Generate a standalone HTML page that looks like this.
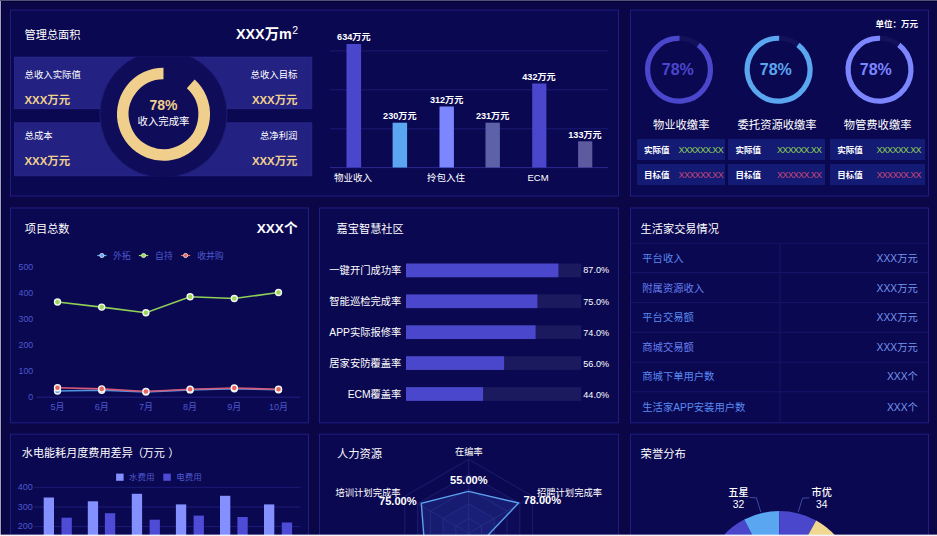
<!DOCTYPE html>
<html lang="zh-CN">
<head>
<meta charset="utf-8">
<title>数据看板</title>
<style>
*{margin:0;padding:0;box-sizing:border-box;}
html,body{width:937px;height:536px;overflow:hidden;background:#0b0646;}
body{position:relative;font-family:"Liberation Sans","Noto Sans CJK SC",sans-serif;color:#fff;font-size:11px;line-height:1;}
.edge-t{position:absolute;left:0;top:0;width:937px;height:2px;background:linear-gradient(#52507d 0,#52507d 50%,#04022f 50%,#04022f 100%);}
.edge-l{position:absolute;left:0;top:1px;width:2px;height:535px;background:linear-gradient(90deg,#a0a0cd 0,#a0a0cd 50%,#04022f 50%,#04022f 100%);}
.edge-b2{position:absolute;left:0;top:534px;width:937px;height:1px;background:rgba(240,240,255,0.38);}
.edge-b{position:absolute;left:0;top:535px;width:937px;height:1px;background:#f4f4fa;}
.panel{position:absolute;background:#0b084e;border:1px solid #1d1a78;}
.t{position:absolute;white-space:nowrap;}
.ttl{font-size:11.2px;color:#fff;}
.big{font-weight:bold;font-size:14px;color:#fff;}
.gold{color:#f0d08e;font-weight:bold;font-size:11.4px;}
.sm{font-size:9.4px;}
.r{text-align:right;}
.box{position:absolute;background:#232282;border:1px solid #2b2a8e;}
.bl{font-size:9.1px;font-weight:bold;transform:translateX(-50%);}
.xl{font-size:9.5px;transform:translateX(-50%);}
.vb{position:absolute;height:21px;background:#131b75;white-space:nowrap;}
.vl{position:absolute;left:7.2px;top:7.2px;font-size:8.5px;font-weight:bold;color:#fff;}
.vv{position:absolute;top:6.5px;font-size:9px;letter-spacing:-0.68px;margin-right:0.7px;}
.c{transform:translateX(-50%);}
.pb{font-size:11.1px;font-weight:bold;}
#bg{position:absolute;left:0;top:0;width:937px;height:536px;}
#ov{position:absolute;left:0;top:0;width:937px;height:536px;}
#ov text{font-family:"Liberation Sans","Noto Sans CJK SC",sans-serif;}
</style>
</head>
<body>
<!-- panels -->
<svg id="bg" viewBox="0 0 937 536">
<rect x="10.5" y="10.1" width="608.0" height="185.9" fill="#0b0852" stroke="#201d80" stroke-width="1"/>
<rect x="630.5" y="10.1" width="298.0" height="185.9" fill="#0b0852" stroke="#201d80" stroke-width="1"/>
<rect x="10.5" y="208.0" width="298.0" height="214.8" fill="#0b0852" stroke="#201d80" stroke-width="1"/>
<rect x="319.5" y="208.0" width="299.0" height="214.8" fill="#0b0852" stroke="#201d80" stroke-width="1"/>
<rect x="630.5" y="208.0" width="298.0" height="214.8" fill="#0b0852" stroke="#201d80" stroke-width="1"/>
<rect x="10.5" y="434.2" width="298.0" height="125.8" fill="#0b0852" stroke="#201d80" stroke-width="1"/>
<rect x="319.5" y="434.2" width="299.0" height="125.8" fill="#0b0852" stroke="#201d80" stroke-width="1"/>
<rect x="630.5" y="434.2" width="298.0" height="125.8" fill="#0b0852" stroke="#201d80" stroke-width="1"/>
<rect x="14.5" y="57.1" width="297.3" height="51.6" fill="#232282" stroke="#2a298c" stroke-width="0.8"/>
<rect x="14.5" y="122.8" width="297.3" height="53.0" fill="#232282" stroke="#2a298c" stroke-width="0.8"/>
</svg>

<!-- P1: overview boxes are drawn in #bg svg -->

<svg id="ov" viewBox="0 0 937 536">

<!-- P1 donut -->
<clipPath id="band"><rect x="90" y="56.7" width="150" height="119.5"/></clipPath>
<circle cx="163.5" cy="114.2" r="63.6" fill="#0f0c5a" stroke="#1f1d78" stroke-width="1" clip-path="url(#band)"/>
<path d="M190.73 83.95 A40.7 40.7 0 1 1 163.49 73.50" fill="none" stroke="#f0cf8c" stroke-width="11.7"/>
<!-- P1 bar chart -->
<g stroke="#1c1a72" stroke-width="1">
<line x1="330" y1="50.9" x2="608" y2="50.9"/>
<line x1="330" y1="89.8" x2="608" y2="89.8"/>
<line x1="330" y1="128.8" x2="608" y2="128.8"/>
<line x1="330" y1="167.6" x2="608" y2="167.6" stroke="#2a2890"/>
</g>
<rect x="346.5" y="44" width="14.6" height="123.5" fill="#4a47cc"/>
<rect x="392.6" y="122.7" width="14.5" height="44.8" fill="#5ba6f0"/>
<rect x="439.5" y="106.5" width="14.4" height="61" fill="#7b86ff"/>
<rect x="485.5" y="122.7" width="14.4" height="44.8" fill="#5d62a8"/>
<rect x="532.2" y="83.5" width="14.2" height="84" fill="#4a47cc"/>
<rect x="578.1" y="141.3" width="14.2" height="26.2" fill="#5d5aa0"/>
<!-- P2 rings -->
<circle cx="679.0" cy="69.7" r="31.45" fill="none" stroke="#13115a" stroke-width="5.2"/>
<circle cx="679.0" cy="69.7" r="31.45" fill="none" stroke="#4a47cc" stroke-width="5.2" stroke-dasharray="177.02 400" transform="rotate(-52 679.0 69.7)"/>
<circle cx="778.6" cy="69.7" r="31.45" fill="none" stroke="#13115a" stroke-width="5.2"/>
<circle cx="778.6" cy="69.7" r="31.45" fill="none" stroke="#5ba6f0" stroke-width="5.2" stroke-dasharray="177.02 400" transform="rotate(-52 778.6 69.7)"/>
<circle cx="879.5" cy="69.7" r="31.45" fill="none" stroke="#13115a" stroke-width="5.2"/>
<circle cx="879.5" cy="69.7" r="31.45" fill="none" stroke="#7b86ff" stroke-width="5.2" stroke-dasharray="177.02 400" transform="rotate(-52 879.5 69.7)"/>
<!-- P3 line chart -->
<line x1="36.5" y1="397.2" x2="300" y2="397.2" stroke="#25258c" stroke-width="0.9"/>
<polyline points="57.5,391.0 101.7,390.2 145.9,391.9 190.1,389.9 234.3,388.7 278.5,389.8" fill="none" stroke="#4f96e0" stroke-width="1.6"/>
<circle cx="57.5" cy="391.0" r="3.0" fill="#5ba6f0" stroke="#f4f4f4" stroke-width="1.4"/>
<circle cx="101.7" cy="390.2" r="3.0" fill="#5ba6f0" stroke="#f4f4f4" stroke-width="1.4"/>
<circle cx="145.9" cy="391.9" r="3.0" fill="#5ba6f0" stroke="#f4f4f4" stroke-width="1.4"/>
<circle cx="190.1" cy="389.9" r="3.0" fill="#5ba6f0" stroke="#f4f4f4" stroke-width="1.4"/>
<circle cx="234.3" cy="388.7" r="3.0" fill="#5ba6f0" stroke="#f4f4f4" stroke-width="1.4"/>
<circle cx="278.5" cy="389.8" r="3.0" fill="#5ba6f0" stroke="#f4f4f4" stroke-width="1.4"/>
<polyline points="57.5,302.0 101.7,307.1 145.9,312.7 190.1,296.8 234.3,298.5 278.5,292.5" fill="none" stroke="#8fcf58" stroke-width="1.6"/>
<circle cx="57.5" cy="302.0" r="3.0" fill="#9bd85a" stroke="#f4f4f4" stroke-width="1.4"/>
<circle cx="101.7" cy="307.1" r="3.0" fill="#9bd85a" stroke="#f4f4f4" stroke-width="1.4"/>
<circle cx="145.9" cy="312.7" r="3.0" fill="#9bd85a" stroke="#f4f4f4" stroke-width="1.4"/>
<circle cx="190.1" cy="296.8" r="3.0" fill="#9bd85a" stroke="#f4f4f4" stroke-width="1.4"/>
<circle cx="234.3" cy="298.5" r="3.0" fill="#9bd85a" stroke="#f4f4f4" stroke-width="1.4"/>
<circle cx="278.5" cy="292.5" r="3.0" fill="#9bd85a" stroke="#f4f4f4" stroke-width="1.4"/>
<polyline points="57.5,387.8 101.7,388.9 145.9,391.5 190.1,389.3 234.3,388.0 278.5,389.3" fill="none" stroke="#d85a76" stroke-width="1.6"/>
<circle cx="57.5" cy="387.8" r="3.0" fill="#e5655f" stroke="#f4f4f4" stroke-width="1.4"/>
<circle cx="101.7" cy="388.9" r="3.0" fill="#e5655f" stroke="#f4f4f4" stroke-width="1.4"/>
<circle cx="145.9" cy="391.5" r="3.0" fill="#e5655f" stroke="#f4f4f4" stroke-width="1.4"/>
<circle cx="190.1" cy="389.3" r="3.0" fill="#e5655f" stroke="#f4f4f4" stroke-width="1.4"/>
<circle cx="234.3" cy="388.0" r="3.0" fill="#e5655f" stroke="#f4f4f4" stroke-width="1.4"/>
<circle cx="278.5" cy="389.3" r="3.0" fill="#e5655f" stroke="#f4f4f4" stroke-width="1.4"/>
<line x1="97.2" y1="255.5" x2="106.60000000000001" y2="255.5" stroke="#5ba6f0" stroke-width="1.2"/><circle cx="101.9" cy="255.5" r="2.1" fill="#5ba6f0" stroke="#f2f2f2" stroke-width="0.8"/>
<line x1="138.9" y1="255.5" x2="148.29999999999998" y2="255.5" stroke="#9bd85a" stroke-width="1.2"/><circle cx="143.6" cy="255.5" r="2.1" fill="#9bd85a" stroke="#f2f2f2" stroke-width="0.8"/>
<line x1="180.9" y1="255.5" x2="190.29999999999998" y2="255.5" stroke="#e5655f" stroke-width="1.2"/><circle cx="185.6" cy="255.5" r="2.1" fill="#e5655f" stroke="#f2f2f2" stroke-width="0.8"/>
<!-- P4 progress -->
<rect x="406" y="263.55" width="175.2" height="13.7" fill="#1c1a5e"/><rect x="406" y="263.55" width="152.4" height="13.7" fill="#4a47cc"/>
<rect x="406" y="294.45" width="175.2" height="13.7" fill="#1c1a5e"/><rect x="406" y="294.45" width="131.4" height="13.7" fill="#4a47cc"/>
<rect x="406" y="325.35" width="175.2" height="13.7" fill="#1c1a5e"/><rect x="406" y="325.35" width="129.6" height="13.7" fill="#4a47cc"/>
<rect x="406" y="356.25" width="175.2" height="13.7" fill="#1c1a5e"/><rect x="406" y="356.25" width="98.1" height="13.7" fill="#4a47cc"/>
<rect x="406" y="387.15" width="175.2" height="13.7" fill="#1c1a5e"/><rect x="406" y="387.15" width="77.1" height="13.7" fill="#4a47cc"/>
<!-- P5 table -->
<g stroke="#161568" stroke-width="1">
<line x1="631" y1="243.4" x2="928" y2="243.4"/>
<line x1="631" y1="272.6" x2="928" y2="272.6"/>
<line x1="631" y1="302.6" x2="928" y2="302.6"/>
<line x1="631" y1="332.2" x2="928" y2="332.2"/>
<line x1="631" y1="362.2" x2="928" y2="362.2"/>
<line x1="631" y1="391.8" x2="928" y2="391.8"/>
<line x1="780" y1="243.4" x2="780" y2="423"/>
</g>
<!-- P6 bars -->
<g stroke="#1c1c78" stroke-width="1">
<line x1="34" y1="487.3" x2="300.5" y2="487.3"/>
<line x1="34" y1="507.0" x2="300.5" y2="507.0"/>
<line x1="34" y1="526.6" x2="300.5" y2="526.6"/>
</g>
<rect x="43.7" y="497.5" width="10.3" height="42.5" fill="#8490ff"/>
<rect x="87.8" y="501.3" width="10.3" height="38.7" fill="#8490ff"/>
<rect x="131.8" y="493.8" width="10.3" height="46.2" fill="#8490ff"/>
<rect x="175.9" y="504.4" width="10.3" height="35.6" fill="#8490ff"/>
<rect x="220.0" y="495.8" width="10.3" height="44.2" fill="#8490ff"/>
<rect x="264.0" y="504.4" width="10.3" height="35.6" fill="#8490ff"/>
<rect x="61.5" y="517.7" width="10.3" height="22.3" fill="#4e4cd6"/>
<rect x="104.9" y="513.2" width="10.3" height="26.8" fill="#4e4cd6"/>
<rect x="149.6" y="519.7" width="10.3" height="20.3" fill="#4e4cd6"/>
<rect x="193.6" y="515.6" width="10.3" height="24.4" fill="#4e4cd6"/>
<rect x="237.4" y="517.0" width="10.3" height="23.0" fill="#4e4cd6"/>
<rect x="281.8" y="522.5" width="10.3" height="17.5" fill="#4e4cd6"/>
<rect x="116.1" y="473.6" width="7.5" height="7.2" fill="#8490ff"/><rect x="163.3" y="473.6" width="7.5" height="7.2" fill="#4e4cd6"/>
<!-- P7 radar -->
<g fill="none" stroke="#212374" stroke-width="0.8">
<polygon points="468.7,459.4 532.6,496.3 532.6,570.1 468.7,607.0 404.8,570.1 404.8,496.3" fill="none"/>
<polygon points="468.7,474.2 519.8,503.7 519.8,562.7 468.7,592.2 417.6,562.7 417.6,503.7" fill="rgba(30,34,120,0.18)"/>
<polygon points="468.7,488.9 507.0,511.1 507.0,555.3 468.7,577.5 430.4,555.3 430.4,511.1" fill="none"/>
<polygon points="468.7,503.7 494.3,518.4 494.3,548.0 468.7,562.7 443.1,548.0 443.1,518.4" fill="rgba(30,34,120,0.18)"/>
<polygon points="468.7,518.4 481.5,525.8 481.5,540.6 468.7,548.0 455.9,540.6 455.9,525.8" fill="none"/>
<line x1="468.7" y1="533.2" x2="468.7" y2="459.4"/>
<line x1="468.7" y1="533.2" x2="532.6" y2="496.3"/>
<line x1="468.7" y1="533.2" x2="532.6" y2="570.1"/>
<line x1="468.7" y1="533.2" x2="468.7" y2="607.0"/>
<line x1="468.7" y1="533.2" x2="404.8" y2="570.1"/>
<line x1="468.7" y1="533.2" x2="404.8" y2="496.3"/>
</g>
<polygon points="468.4,491.4 518.6,503.0 482.4,541.1 468.7,560.0 425.6,558.1 421.3,503.4" fill="rgba(62,100,220,0.19)" stroke="#5ba0ee" stroke-width="1.4" stroke-linejoin="miter"/>
<!-- P8 pie -->
<path d="M779.3 587 L704.45 573.80 A76 76 0 0 1 744.21 519.59 Z" fill="#4a47cc"/>
<path d="M779.3 587 L744.21 519.59 A76 76 0 0 1 779.30 511.00 Z" fill="#5ba6f0"/>
<path d="M779.3 587 L779.30 511.00 A76 76 0 0 1 816.15 520.53 Z" fill="#4a47cc"/>
<path d="M779.3 587 L816.15 520.53 A76 76 0 0 1 854.15 573.80 Z" fill="#f0d890"/>
<polyline points="749.5,497.5 756.4,497.8 760.8,512" fill="none" stroke="#3d4aa0" stroke-width="1"/>
<polyline points="809.3,497.8 802.5,498.2 798.2,512" fill="none" stroke="#3d4aa0" stroke-width="1"/>
<!-- SVG-CONTENT -->
</svg>


<!-- P1 text -->
<div class="t ttl" style="left:24.5px;top:29.5px;">管理总面积</div>
<div class="t big r" style="right:639px;top:27.2px;font-size:14.3px;">XXX万m<span style="font-size:10.5px;font-weight:normal;position:relative;top:-5.5px;margin-left:0.5px;">2</span></div>
<div class="t sm" style="left:24.5px;top:70.4px;">总收入实际值</div>
<div class="t gold" style="left:24.5px;top:95.2px;">XXX万元</div>
<div class="t sm r" style="right:639.5px;top:70.4px;">总收入目标</div>
<div class="t gold r" style="right:639.5px;top:95.2px;">XXX万元</div>
<div class="t sm" style="left:24.5px;top:131px;">总成本</div>
<div class="t gold" style="left:24.5px;top:156.2px;">XXX万元</div>
<div class="t sm r" style="right:639.5px;top:131px;">总净利润</div>
<div class="t gold r" style="right:639.5px;top:156.2px;">XXX万元</div>
<div class="t" style="left:133.5px;width:60px;text-align:center;top:98px;font-size:14px;font-weight:bold;color:#f0cf8c;">78%</div>
<div class="t" style="left:123.5px;width:80px;text-align:center;top:116.5px;font-size:10.4px;">收入完成率</div>
<!-- P1 bar labels -->
<div class="t bl" style="left:353.8px;top:33.4px;">634万元</div>
<div class="t bl" style="left:399.8px;top:112px;">230万元</div>
<div class="t bl" style="left:446.6px;top:96px;">312万元</div>
<div class="t bl" style="left:492.6px;top:112px;">231万元</div>
<div class="t bl" style="left:539px;top:73px;">432万元</div>
<div class="t bl" style="left:585px;top:131px;">133万元</div>
<div class="t xl" style="left:353px;top:173px;">物业收入</div>
<div class="t xl" style="left:446px;top:173px;">拎包入住</div>
<div class="t xl" style="left:538px;top:173px;">ECM</div>
<!-- P2 text -->
<div class="t r" style="right:19px;top:19.9px;font-size:8.5px;font-weight:bold;">单位：万元</div>
<div class="t" style="left:677.8px;top:62px;transform:translateX(-50%);font-size:16px;font-weight:bold;color:#4a47cc;">78%</div>
<div class="t" style="left:681.2px;top:120px;transform:translateX(-50%);font-size:11.3px;">物业收缴率</div>
<div class="vb" style="left:636.7px;top:139px;width:88px;"><span class="vl">实际值</span><span class="vv" style="color:#8fd14f;right:1px;">XXXXXX.XX</span></div>
<div class="vb" style="left:636.7px;top:164.1px;width:88px;"><span class="vl">目标值</span><span class="vv" style="color:#c8467a;right:1px;">XXXXXX.XX</span></div>
<div class="t" style="left:775.8px;top:62px;transform:translateX(-50%);font-size:16px;font-weight:bold;color:#5ba6f0;">78%</div>
<div class="t" style="left:777.1px;top:120px;transform:translateX(-50%);font-size:11.3px;">委托资源收缴率</div>
<div class="vb" style="left:728.2px;top:139px;width:96.5px;"><span class="vl">实际值</span><span class="vv" style="color:#8fd14f;right:2.6px;">XXXXXX.XX</span></div>
<div class="vb" style="left:728.2px;top:164.1px;width:96.5px;"><span class="vl">目标值</span><span class="vv" style="color:#c8467a;right:2.6px;">XXXXXX.XX</span></div>
<div class="t" style="left:875.8px;top:62px;transform:translateX(-50%);font-size:16px;font-weight:bold;color:#7b86ff;">78%</div>
<div class="t" style="left:877.6px;top:120px;transform:translateX(-50%);font-size:11.3px;">物管费收缴率</div>
<div class="vb" style="left:830px;top:139px;width:95.2px;"><span class="vl">实际值</span><span class="vv" style="color:#8fd14f;right:3.7px;">XXXXXX.XX</span></div>
<div class="vb" style="left:830px;top:164.1px;width:95.2px;"><span class="vl">目标值</span><span class="vv" style="color:#c8467a;right:3.7px;">XXXXXX.XX</span></div>
<!-- P3 text -->
<div class="t ttl" style="left:24.8px;top:224.1px;">项目总数</div>
<div class="t r" style="right:639.5px;top:221.6px;font-size:13.6px;font-weight:bold;">XXX个</div>
<div class="t" style="left:113.1px;top:252.1px;font-size:8.8px;color:#4c58cc;">外拓</div>
<div class="t" style="left:155.1px;top:252.1px;font-size:8.8px;color:#4c58cc;">自持</div>
<div class="t" style="left:197.2px;top:252.1px;font-size:8.8px;color:#4c58cc;">收并购</div>
<div class="t r" style="right:903.8px;top:262.5px;font-size:8.8px;color:#4c58cc;">500</div>
<div class="t r" style="right:903.8px;top:288.6px;font-size:8.8px;color:#4c58cc;">400</div>
<div class="t r" style="right:903.8px;top:314.7px;font-size:8.8px;color:#4c58cc;">300</div>
<div class="t r" style="right:903.8px;top:340.7px;font-size:8.8px;color:#4c58cc;">200</div>
<div class="t r" style="right:903.8px;top:366.8px;font-size:8.8px;color:#4c58cc;">100</div>
<div class="t r" style="right:903.8px;top:392.9px;font-size:8.8px;color:#4c58cc;">0</div>
<div class="t" style="left:57.5px;top:402.8px;transform:translateX(-50%);font-size:9px;color:#4c58cc;">5月</div>
<div class="t" style="left:101.7px;top:402.8px;transform:translateX(-50%);font-size:9px;color:#4c58cc;">6月</div>
<div class="t" style="left:145.9px;top:402.8px;transform:translateX(-50%);font-size:9px;color:#4c58cc;">7月</div>
<div class="t" style="left:190.1px;top:402.8px;transform:translateX(-50%);font-size:9px;color:#4c58cc;">8月</div>
<div class="t" style="left:234.3px;top:402.8px;transform:translateX(-50%);font-size:9px;color:#4c58cc;">9月</div>
<div class="t" style="left:278.5px;top:402.8px;transform:translateX(-50%);font-size:9px;color:#4c58cc;">10月</div>
<!-- P4 text -->
<div class="t ttl" style="left:336.6px;top:224.1px;">嘉宝智慧社区</div>
<div class="t r" style="right:535.6px;top:265.6px;font-size:10.3px;">一键开门成功率</div>
<div class="t" style="left:583.3px;top:266.4px;font-size:9.1px;">87.0%</div>
<div class="t r" style="right:535.6px;top:297.4px;font-size:10.3px;">智能巡检完成率</div>
<div class="t" style="left:583.3px;top:298.2px;font-size:9.1px;">75.0%</div>
<div class="t r" style="right:535.6px;top:327.8px;font-size:10.3px;">APP实际报修率</div>
<div class="t" style="left:583.3px;top:328.6px;font-size:9.1px;">74.0%</div>
<div class="t r" style="right:535.6px;top:359.1px;font-size:10.3px;">居家安防覆盖率</div>
<div class="t" style="left:583.3px;top:359.9px;font-size:9.1px;">56.0%</div>
<div class="t r" style="right:535.6px;top:390.0px;font-size:10.3px;">ECM覆盖率</div>
<div class="t" style="left:583.3px;top:390.8px;font-size:9.1px;">44.0%</div>
<!-- P5 text -->
<div class="t ttl" style="left:640.6px;top:224.1px;">生活家交易情况</div>
<div class="t" style="left:642.3px;top:253.6px;font-size:10.3px;color:#5a8af0;">平台收入</div>
<div class="t r" style="right:19.2px;top:253.6px;font-size:10.3px;color:#7596ec;">XXX万元</div>
<div class="t" style="left:642.3px;top:283.6px;font-size:10.3px;color:#6680f0;">附属资源收入</div>
<div class="t r" style="right:19.2px;top:283.6px;font-size:10.3px;color:#7596ec;">XXX万元</div>
<div class="t" style="left:642.3px;top:312.8px;font-size:10.3px;color:#5a8af0;">平台交易额</div>
<div class="t r" style="right:19.2px;top:312.8px;font-size:10.3px;color:#7596ec;">XXX万元</div>
<div class="t" style="left:642.3px;top:342.8px;font-size:10.3px;color:#6680f0;">商城交易额</div>
<div class="t r" style="right:19.2px;top:342.8px;font-size:10.3px;color:#7596ec;">XXX万元</div>
<div class="t" style="left:642.3px;top:372.4px;font-size:10.3px;color:#5a8af0;">商城下单用户数</div>
<div class="t r" style="right:19.2px;top:372.4px;font-size:10.3px;color:#7596ec;">XXX个</div>
<div class="t" style="left:642.3px;top:402.5px;font-size:10.3px;color:#5a8af0;">生活家APP安装用户数</div>
<div class="t r" style="right:19.2px;top:402.5px;font-size:10.3px;color:#7596ec;">XXX个</div>
<!-- P6 text -->
<div class="t ttl" style="left:21.8px;top:448.3px;font-size:11.1px;">水电能耗月度费用差异<span style="margin-left:-0.5px;">（</span><span style="margin-left:-0.6px;">万元</span><span style="margin-left:3.4px;">）</span></div>
<div class="t" style="left:129px;top:473px;font-size:8.5px;color:#4c58cc;">水费用</div>
<div class="t" style="left:176.2px;top:473px;font-size:8.5px;color:#4c58cc;">电费用</div>
<div class="t r" style="right:904.2px;top:482.8px;font-size:9px;color:#4c58cc;">400</div>
<div class="t r" style="right:904.2px;top:502.6px;font-size:9px;color:#4c58cc;">300</div>
<div class="t r" style="right:904.2px;top:522.1px;font-size:9px;color:#4c58cc;">200</div>
<!-- P7 text -->
<div class="t ttl" style="left:336.9px;top:448.9px;font-size:11.3px;">人力资源</div>
<div class="t c" style="left:468.8px;top:448px;font-size:9.2px;">在编率</div>
<div class="t c" style="left:368px;top:488.6px;font-size:9.3px;">培训计划完成率</div>
<div class="t c" style="left:569.5px;top:488.6px;font-size:9.3px;">招聘计划完成率</div>
<div class="t c pb" style="left:468.8px;top:475.4px;">55.00%</div>
<div class="t c pb" style="left:397.8px;top:495.5px;">75.00%</div>
<div class="t c pb" style="left:542.3px;top:495px;">78.00%</div>
<!-- P8 text -->
<div class="t ttl" style="left:640.6px;top:448.6px;font-size:11.35px;">荣誉分布</div>
<div class="t c" style="left:738.4px;top:487.6px;font-size:10.2px;font-weight:500;">五星</div>
<div class="t c" style="left:738.4px;top:499.6px;font-size:10.3px;">32</div>
<div class="t c" style="left:821.7px;top:487.6px;font-size:10.2px;font-weight:500;">市优</div>
<div class="t c" style="left:821.8px;top:499.6px;font-size:10.3px;">34</div>
<!-- TEXT-CONTENT -->
<div class="edge-t"></div><div class="edge-l"></div><div class="edge-b2"></div><div class="edge-b"></div>
</body>
</html>
